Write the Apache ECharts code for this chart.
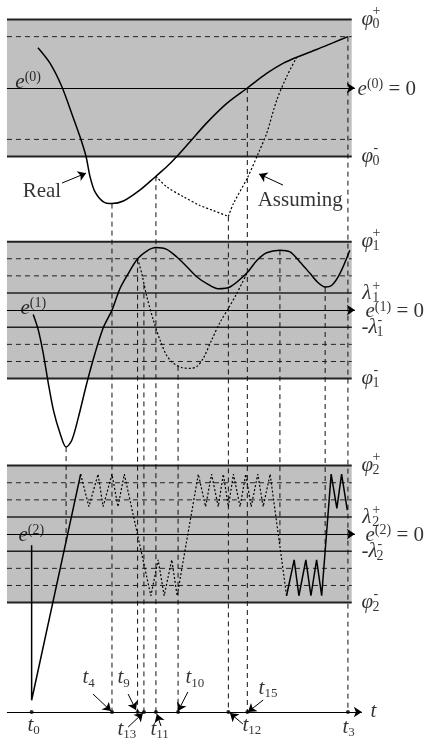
<!DOCTYPE html>
<html>
<head>
<meta charset="UTF-8">
<title>e(k) switching diagram</title>
<script src="https://cdn.jsdelivr.net/npm/echarts@6/dist/echarts.min.js"></script>
<style>
html, body { margin: 0; padding: 0; background: #fff; }
#main { width: 427px; height: 742px; }
</style>
</head>
<body>
<div id="main"></div>
<script>
// shared vertical scale: t axis at 0, each panel's e(k) = 0 at panelBase[k]
var panelBase = [36.44, 23.47, 10.39, 0];
var panelFrom = -7.8, panelTo = 101.2, arrowTo = 102.2, tAxisTo = 104.4;

// levels of each panel
var phiLevel = 4;
var dashedLevels = [[3, -3], [3, 2, -2, -3], [3, 2, -2, -3]];
var lambdaLevels = [[], [1, -1], [1, -1]];

// instants on the t axis
var tNames = ['0', '4', '9', '13', '11', '10', '12', '15', '3'];
var tTimes = [0, 25.4, 33.5, 35.5, 39.3, 46.3, 62.2, 68.2, 100];
var tLabelT = [-1.5, 15.9, 27, 27, 37.4, 48.5, 66.5, 71.6, 98.1];
var tLabelY = [-0.76, 2, 2, -1, -1, 2, -0.76, 1.4, -0.88];
var tArrowT = [null, 19.4, 30.5, 30.5, 40.9, 49.4, 66.8, 73.2, null];
var tArrowY = [null, 1.05, 1.05, -0.88, -0.82, 1.17, -0.7, 0.7, null];
var tArrowEndT = [null, 25.1, 33.0, 35.2, 39.6, 46.3, 62.7, 68.4, null];
var tArrowEndY = [null, 0.06, 0.12, -0.06, -0.12, 0.06, -0.06, 0, null];

// e(0): real and assumed
var e0RealT = [2, 5.8, 9.5, 12.7, 15.3, 17.2, 18.5, 20, 22.7, 25.4, 29, 34.3, 39.3, 42.7, 45.9, 50, 55.3, 61.7, 68.2, 74.3, 79.6, 83.8, 90.1, 95.4, 100];
var e0RealV = [2.35, 1.45, 0.1, -1.5, -2.85, -4, -5.2, -6.05, -6.65, -6.75, -6.6, -5.95, -5.15, -4.6, -4, -3.15, -2.05, -0.9, 0, 0.85, 1.45, 1.8, 2.25, 2.65, 3];
var e0AssumeT = [39.3, 42.7, 48, 53.2, 57.4, 62.2];
var e0AssumeV = [-5.15, -5.77, -6.35, -6.86, -7.15, -7.5];
var e0Assume2T = [62.2, 63.8, 68.2, 71.7, 74.3, 77.5, 80.6, 83.8];
var e0Assume2V = [-7.5, -6.75, -5.25, -3.8, -2.65, -0.7, 0.65, 1.8];

// e(1)
var e1RealT = [0.5, 2.1, 3.7, 5.3, 6.9, 9, 10.9, 12.7, 14.8, 17.4, 20, 22.7, 25.4, 27.9, 30.6, 33.5, 36.4, 39.3, 42.7, 45.9, 49, 52.2, 55.4, 59, 62.7, 68.2, 71.2, 74.3, 78.5, 81.7, 84.9, 88, 90.6, 92.8, 94.9, 97.5, 100.6];
var e1RealV = [-0.25, -1.15, -2.55, -4.3, -5.85, -7.2, -8, -7.6, -6.25, -4.3, -2.55, -1, 0, 1.25, 2.15, 3, 3.45, 3.65, 3.55, 3.1, 2.55, 1.95, 1.55, 1.25, 1.35, 2.2, 2.9, 3.35, 3.5, 3.4, 2.8, 2.15, 1.6, 1.35, 1.45, 2.15, 3.5];
var e1DotT = [33.5, 34.8, 36.4, 38.5, 40.6, 42.7, 44.8, 47.4, 50.1, 52.2, 54.3, 56.9, 59.6, 62.2, 64.8, 68.2];
var e1DotV = [3, 2.15, 0.8, -0.6, -1.75, -2.65, -3.1, -3.35, -3.4, -3.3, -2.8, -1.75, -0.7, 0.1, 0.95, 2.2];

// e(2)
var e2StartT = [0, 0, 15.5];
var e2StartV = [-0.65, -9.7, 3.5];
var e2DotT = [15.5, 18.1, 21, 22.6, 25.4, 27.3, 29.3, 37.7, 40, 41.9, 44.3, 46, 52.7, 55, 56.9, 59, 60.6, 62.2, 63.8, 65.9, 67.7, 69.4, 71.5, 73.2, 75.4, 80.6];
var e2DotV = [3.5, 1.6, 3.5, 1.6, 3.5, 1.6, 3.5, -3.6, -1.5, -3.6, -1.5, -3.6, 3.5, 1.6, 3.5, 1.6, 3.5, 1.6, 3.5, 1.6, 3.5, 1.6, 3.5, 1.6, 3.5, -3.6];
var e2EndT = [80.6, 83, 84.5, 86.7, 88.3, 90.1, 91.7, 94.7, 96.5, 98, 99.8];
var e2EndV = [-3.6, -1.5, -3.6, -1.5, -3.6, -1.5, -3.6, 3.5, 1.5, 3.5, 1.4];

// vertical dashed guides
var guideT = [10.9, 25.4, 33.5, 35.5, 39.3, 46.3, 62.2, 68.2, 78.5, 92.8, 100];
var guideTopPanel = [1, 0, 1, 1, 0, 1, 0, 0, 1, 1, 0];
var guideTopE = [-8, -6.75, 3, 1.5, -5.15, -3.25, -7.5, 0, 3.5, 1.35, 3];
var guideEndPanel = [2, 3, 3, 3, 3, 3, 3, 3, 2, 2, 3];
var guideEndE = [-0.45, 0, 0, 0, 0, 0, 0, 0, -0.7, -1.0, 0];

// notes
var noteText = ['Real', 'Assuming'];
var noteT = [-3.0, 71.3], noteY = [30.37, 29.9];
var noteFromT = [9.6, 79.5], noteFromY = [30.89, 30.77];
var noteToT = [17.2, 71.9], noteToY = [31.47, 31.42];

function Y(p, e) { return panelBase[p] + e; }
function pts(ts, vs, p) {
	var out = [];
	for (var i = 0; i < ts.length; i++) out.push([ts[i], Y(p, vs[i])]);
	return out;
}

var series = [];
var solid = { color: '#000', width: 1.5, type: 'solid' };
var dotted = { color: '#000', width: 1.2, type: [2, 2] };

function addLine(data, style, smooth, z) {
	series.push({
		type: 'line', data: data, symbol: 'none', silent: true, animation: false,
		smooth: smooth || false, z: z || 3, lineStyle: style
	});
}

// horizontal levels
for (var p = 0; p < 3; p++) {
	[phiLevel, -phiLevel].forEach(function (lv) {
		addLine([[panelFrom, Y(p, lv)], [panelTo, Y(p, lv)]], { color: '#222', width: 2 }, false, 2);
	});
	dashedLevels[p].forEach(function (lv) {
		addLine([[panelFrom, Y(p, lv)], [panelTo, Y(p, lv)]], { color: '#222', width: 1, type: [5, 4] }, false, 2);
	});
	lambdaLevels[p].forEach(function (lv) {
		addLine([[panelFrom, Y(p, lv)], [panelTo, Y(p, lv)]], { color: '#222', width: 1.6 }, false, 2);
	});
}

// vertical guides
for (var g = 0; g < guideT.length; g++) {
	addLine([[guideT[g], Y(guideTopPanel[g], guideTopE[g])], [guideT[g], Y(guideEndPanel[g], guideEndE[g])]],
		{ color: '#111', width: 1, type: [5, 4] }, false, 3);
}

// curves
addLine(pts(e0RealT, e0RealV, 0), solid, 0.3, 4);
addLine(pts(e0AssumeT, e0AssumeV, 0), dotted, 0.3, 4);
addLine(pts(e0Assume2T, e0Assume2V, 0), dotted, 0.3, 4);
addLine(pts(e1RealT, e1RealV, 1), solid, 0.3, 4);
addLine(pts(e1DotT, e1DotV, 1), dotted, 0.3, 4);
addLine(pts(e2StartT, e2StartV, 2), solid, false, 4);
addLine(pts(e2DotT, e2DotV, 2), dotted, false, 4);
addLine(pts(e2EndT, e2EndV, 2), solid, false, 4);

// arrows
var arrows = [];
function arrow(t1, y1, t2, y2) { arrows.push([{ coord: [t1, y1] }, { coord: [t2, y2] }]); }
for (var p = 0; p < 3; p++) arrow(panelFrom, Y(p, 0), arrowTo, Y(p, 0));
arrow(panelFrom, 0, tAxisTo, 0);
for (var i = 0; i < tNames.length; i++) {
	if (tArrowT[i] !== null) arrow(tArrowT[i], tArrowY[i], tArrowEndT[i], tArrowEndY[i]);
}
for (var n = 0; n < noteText.length; n++) arrow(noteFromT[n], noteFromY[n], noteToT[n], noteToY[n]);

// shaded bands
var bands = [];
for (var p = 0; p < 3; p++) {
	bands.push([{ coord: [panelFrom, Y(p, phiLevel)] }, { coord: [panelTo, Y(p, -phiLevel)] }]);
}

// t axis points, carrying bands and arrows
series.push({
	type: 'scatter', silent: true, animation: false, z: 6,
	data: tTimes.map(function (t) { return [t, 0]; }),
	symbolSize: 4, itemStyle: { color: '#000' },
	markArea: {
		silent: true, animation: false, label: { show: false },
		itemStyle: { color: '#c0c0c0' }, data: bands
	},
	markLine: {
		silent: true, animation: false, symbol: ['none', 'arrow'], symbolSize: 8,
		label: { show: false }, emphasis: { disabled: true },
		lineStyle: { color: '#000', width: 1, type: 'solid' }, data: arrows
	}
});

// text
var rich = {
	m: { fontFamily: 'Liberation Serif', fontStyle: 'italic', fontSize: 21, lineHeight: 24, color: '#000' },
	r: { fontFamily: 'Liberation Serif', fontSize: 21, lineHeight: 24, color: '#000' },
	sub: { fontFamily: 'Liberation Serif', fontSize: 13, lineHeight: 6, verticalAlign: 'bottom', color: '#000' },
	sup: { fontFamily: 'Liberation Serif', fontSize: 14, lineHeight: 18, verticalAlign: 'top', color: '#000' },
	s: { fontFamily: 'Liberation Serif', fontSize: 14, lineHeight: 14, color: '#000' }
};
var labels = [];
function text(t, y, str, dx, dy) {
	labels.push({ value: [t, y], label: { formatter: str, offset: [dx || 0, dy || 0] } });
}
var eNameT = [-5.3, -3.7, -4.3], eNameE = [0.32, 0.1, -0.1];
var rightT = 104.1;
for (var p = 0; p < 3; p++) {
	text(eNameT[p], Y(p, eNameE[p]), '{m|e}{sup|(' + p + ')}');
	text(rightT, Y(p, phiLevel), '{m|φ}');
	text(rightT, Y(p, phiLevel), '{s|+}', 11, -8);
	text(rightT, Y(p, phiLevel), '{s|' + p + '}', 11, 5);
	text(rightT, Y(p, -phiLevel), '{m|φ}');
	text(rightT, Y(p, -phiLevel), '{s|-}', 12, -8);
	text(rightT, Y(p, -phiLevel), '{s|' + p + '}', 11, 5);
	text(p === 0 ? 102.9 : 105.4, Y(p, -0.1), '{m|e}{sup|(' + p + ')}{r| = 0}');
	if (lambdaLevels[p].length) {
		text(rightT + 0.3, Y(p, 1), '{m|λ}');
		text(rightT + 0.3, Y(p, 1), '{s|+}', 10, -7);
		text(rightT + 0.3, Y(p, 1), '{s|' + p + '}', 10, 5);
		text(rightT, Y(p, -1), '{r|-}{m|λ}');
		text(rightT, Y(p, -1), '{s|-}', 16, -7);
		text(rightT, Y(p, -1), '{s|' + p + '}', 15, 5);
	}
}
for (var i = 0; i < tNames.length; i++) {
	text(tLabelT[i], tLabelY[i], '{m|t}{sub|' + tNames[i] + '}');
}
text(107, 0.06, '{m|t}');
for (var n = 0; n < noteText.length; n++) text(noteT[n], noteY[n], '{r|' + noteText[n] + '}');

series.push({
	type: 'scatter', silent: true, animation: false, z: 10,
	data: labels, symbolSize: 1, itemStyle: { color: 'rgba(0,0,0,0)' },
	label: { show: true, position: 'right', distance: 0, rich: rich }
});

var chart = echarts.init(document.getElementById('main'));
chart.setOption({
	backgroundColor: '#fff',
	animation: false,
	grid: { left: 0, right: 0, top: 0, bottom: 0 },
	xAxis: { type: 'value', min: -10, max: 125, show: false },
	yAxis: { type: 'value', min: -1.75, max: 41.58, show: false },
	series: series
});
</script>
</body>
</html>
